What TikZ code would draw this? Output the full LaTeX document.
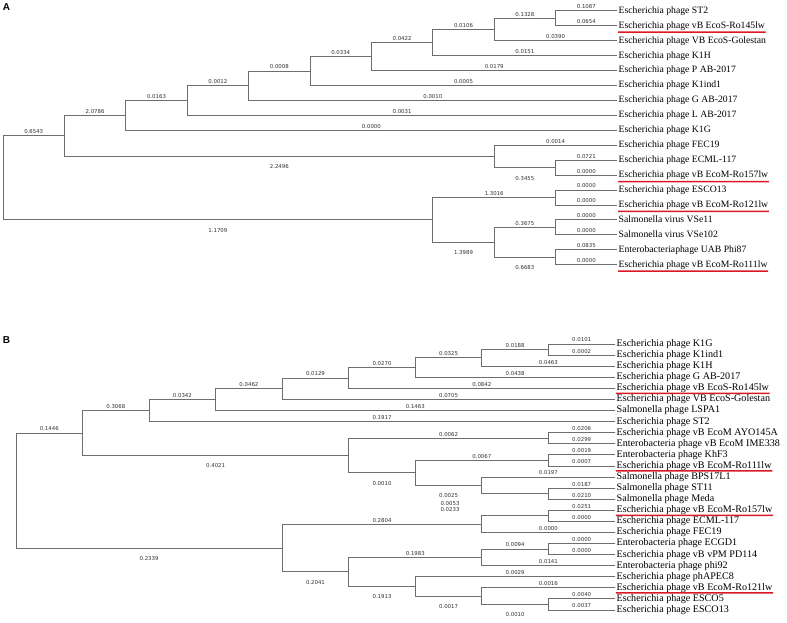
\documentclass[tikz,border=0pt]{standalone}
\usepackage{fontspec}
\setmainfont{Liberation Serif}
\newfontfamily\labfam{DejaVu Sans}
\newfontfamily\panelfam{Liberation Sans}
\definecolor{brc}{RGB}{110,110,110}
\definecolor{labc}{RGB}{50,50,50}
\definecolor{ulc}{RGB}{220,25,35}
\newcommand\yA[1]{-(10.7+14.94*(#1))}
\newcommand\yB[1]{-(344+11.08*(#1))}
\newcommand\xA[1]{(3+61.4*(#1))}
\newcommand\xB[1]{(16+66.55*(#1))}
\begin{document}
\begin{tikzpicture}[x=1pt,y=1pt,
  br/.style={draw=brc,line width=0.75pt},
  lab/.style={font=\labfam\fontsize{5.4}{6}\selectfont,text=labc,inner sep=0pt},
  labup/.style={pos=0.75,yshift=4pt},
  labdn/.style={pos=0.75,yshift=-10.5pt},
  leafA/.style={anchor=west,xshift=1.5pt,inner sep=0pt,text height=7pt,text depth=2pt,font=\fontsize{9.7}{11}\selectfont},
  leafB/.style={anchor=west,xshift=1.5pt,inner sep=0pt,text height=7pt,text depth=2pt,font=\fontsize{10.1}{11}\selectfont},
  uline/.style={fill=ulc,draw=none},
  panel/.style={font=\panelfam\bfseries\fontsize{10}{12}\selectfont,inner sep=0pt}]
\useasboundingbox (0,0) rectangle (787,-623);
\fill[white] (0,0) rectangle (787,-623);

\node[panel] (pA) at (6.5,-7) {A};
\node[panel] (pB) at (6.5,-340) {B};

% ---------------- Tree A ----------------
\foreach \i/\t in {0/Escherichia phage ST2,1/Escherichia phage vB EcoS-Ro145lw,2/Escherichia phage VB EcoS-Golestan,3/Escherichia phage K1H,4/Escherichia phage P AB-2017,5/Escherichia phage K1ind1,6/Escherichia phage G AB-2017,7/Escherichia phage L AB-2017,8/Escherichia phage K1G,9/Escherichia phage FEC19,10/Escherichia phage ECML-117,11/Escherichia phage vB EcoM-Ro157lw,12/Escherichia phage ESCO13,13/Escherichia phage vB EcoM-Ro121lw,14/Salmonella virus VSe11,15/Salmonella virus VSe102,16/Enterobacteriaphage UAB Phi87,17/Escherichia phage vB EcoM-Ro111lw}{
  \coordinate (a-l\i) at ({\xA{10}},{\yA{\i}});
  \node[leafA] (a-t\i) at (a-l\i) {\t};
}
\coordinate (a-r) at ({\xA{0}},{\yA{11.1885}});
\coordinate (a-n1) at ({\xA{1}},{\yA{8.377}});
\coordinate (a-n2) at ({\xA{2}},{\yA{7.004}});
\coordinate (a-n3) at ({\xA{3}},{\yA{6.008}});
\coordinate (a-n4) at ({\xA{4}},{\yA{5.016}});
\coordinate (a-n5) at ({\xA{5}},{\yA{4.031}});
\coordinate (a-n6) at ({\xA{6}},{\yA{3.0625}});
\coordinate (a-n7) at ({\xA{7}},{\yA{2.125}});
\coordinate (a-n8) at ({\xA{8}},{\yA{1.25}});
\coordinate (a-n9) at ({\xA{9}},{\yA{0.5}});
\coordinate (a-c2) at ({\xA{8}},{\yA{9.75}});
\coordinate (a-c1) at ({\xA{9}},{\yA{10.5}});
\coordinate (a-n10) at ({\xA{7}},{\yA{14}});
\coordinate (a-n11) at ({\xA{9}},{\yA{12.5}});
\coordinate (a-n12) at ({\xA{8}},{\yA{15.5}});
\coordinate (a-n13) at ({\xA{9}},{\yA{14.5}});
\coordinate (a-n14) at ({\xA{9}},{\yA{16.5}});

\draw[br] (a-r) |- node[lab,labup]{0.6543} (a-n1);
\draw[br] (a-r) |- node[lab,labdn]{1.1709} (a-n10);
\draw[br] (a-n1) |- node[lab,labup]{2.0786} (a-n2);
\draw[br] (a-n1) |- node[lab,labdn]{2.2496} (a-c2);
\draw[br] (a-n2) |- node[lab,labup]{0.0163} (a-n3);
\draw[br] (a-n2) |- node[lab,labup]{0.0000} (a-l8);
\draw[br] (a-n3) |- node[lab,labup]{0.0012} (a-n4);
\draw[br] (a-n3) |- node[lab,labup]{0.0031} (a-l7);
\draw[br] (a-n4) |- node[lab,labup]{0.0008} (a-n5);
\draw[br] (a-n4) |- node[lab,labup]{0.0010} (a-l6);
\draw[br] (a-n5) |- node[lab,labup]{0.0334} (a-n6);
\draw[br] (a-n5) |- node[lab,labup]{0.0005} (a-l5);
\draw[br] (a-n6) |- node[lab,labup]{0.0422} (a-n7);
\draw[br] (a-n6) |- node[lab,labup]{0.0179} (a-l4);
\draw[br] (a-n7) |- node[lab,labup]{0.0106} (a-n8);
\draw[br] (a-n7) |- node[lab,labup]{0.0151} (a-l3);
\draw[br] (a-n8) |- node[lab,labup]{0.1328} (a-n9);
\draw[br] (a-n8) |- node[lab,labup]{0.0390} (a-l2);
\draw[br] (a-n9) |- node[lab,labup]{0.1087} (a-l0);
\draw[br] (a-n9) |- node[lab,labup]{0.0654} (a-l1);
\draw[br] (a-c2) |- node[lab,labup]{0.0014} (a-l9);
\draw[br] (a-c2) |- node[lab,labdn]{0.3455} (a-c1);
\draw[br] (a-c1) |- node[lab,labup]{0.0721} (a-l10);
\draw[br] (a-c1) |- node[lab,labup]{0.0000} (a-l11);
\draw[br] (a-n10) |- node[lab,labup]{1.3016} (a-n11);
\draw[br] (a-n10) |- node[lab,labdn]{1.3989} (a-n12);
\draw[br] (a-n11) |- node[lab,labup]{0.0000} (a-l12);
\draw[br] (a-n11) |- node[lab,labup]{0.0000} (a-l13);
\draw[br] (a-n12) |- node[lab,labup]{0.3675} (a-n13);
\draw[br] (a-n12) |- node[lab,labdn]{0.6683} (a-n14);
\draw[br] (a-n13) |- node[lab,labup]{0.0000} (a-l14);
\draw[br] (a-n13) |- node[lab,labup]{0.0000} (a-l15);
\draw[br] (a-n14) |- node[lab,labup]{0.0835} (a-l16);
\draw[br] (a-n14) |- node[lab,labup]{0.0000} (a-l17);

% ---------------- Tree B ----------------
\foreach \i/\t in {0/Escherichia phage K1G,1/Escherichia phage K1ind1,2/Escherichia phage K1H,3/Escherichia phage G AB-2017,4/Escherichia phage vB EcoS-Ro145lw,5/Escherichia phage VB EcoS-Golestan,6/Salmonella phage LSPA1,7/Escherichia phage ST2,8/Escherichia phage vB EcoM AYO145A,9/Enterobacteria phage vB EcoM IME338,10/Enterobacteria phage KhF3,11/Escherichia phage vB EcoM-Ro111lw,12/Salmonella phage BPS17L1,13/Salmonella phage ST11,14/Salmonella phage Meda,15/Escherichia phage vB EcoM-Ro157lw,16/Escherichia phage ECML-117,17/Escherichia phage FEC19,18/Enterobacteria phage ECGD1,19/Escherichia phage vB vPM PD114,20/Enterobacteria phage phi92,21/Escherichia phage phAPEC8,22/Escherichia phage vB EcoM-Ro121lw,23/Escherichia phage ESCO5,24/Escherichia phage ESCO13}{
  \coordinate (b-l\i) at ({\xB{9}},{\yB{\i}});
  \node[leafB] (b-t\i) at (b-l\i) {\t};
}
\coordinate (b-r) at ({\xB{0}},{\yB{13.2205}});
\coordinate (b-n1) at ({\xB{1}},{\yB{8.035}});
\coordinate (b-n2) at ({\xB{2}},{\yB{6.008}});
\coordinate (b-n3) at ({\xB{3}},{\yB{5.016}});
\coordinate (b-n4) at ({\xB{4}},{\yB{4.031}});
\coordinate (b-n5) at ({\xB{5}},{\yB{3.0625}});
\coordinate (b-n6) at ({\xB{6}},{\yB{2.125}});
\coordinate (b-n7) at ({\xB{7}},{\yB{1.25}});
\coordinate (b-n8) at ({\xB{8}},{\yB{0.5}});
\coordinate (b-n9) at ({\xB{5}},{\yB{10.0625}});
\coordinate (b-n10) at ({\xB{8}},{\yB{8.5}});
\coordinate (b-n11) at ({\xB{6}},{\yB{11.625}});
\coordinate (b-n12) at ({\xB{8}},{\yB{10.5}});
\coordinate (b-n13) at ({\xB{7}},{\yB{12.75}});
\coordinate (b-n14) at ({\xB{8}},{\yB{13.5}});
\coordinate (b-n15) at ({\xB{4}},{\yB{18.406}});
\coordinate (b-n16) at ({\xB{7}},{\yB{16.25}});
\coordinate (b-n17) at ({\xB{8}},{\yB{15.5}});
\coordinate (b-n18) at ({\xB{5}},{\yB{20.5625}});
\coordinate (b-n19) at ({\xB{7}},{\yB{19.25}});
\coordinate (b-n21) at ({\xB{8}},{\yB{18.5}});
\coordinate (b-n20) at ({\xB{6}},{\yB{21.875}});
\coordinate (b-n22) at ({\xB{7}},{\yB{22.75}});
\coordinate (b-n23) at ({\xB{8}},{\yB{23.5}});

\draw[br] (b-r) |- node[lab,labup]{0.1446} (b-n1);
\draw[br] (b-r) |- node[lab,labdn]{0.2339} (b-n15);
\draw[br] (b-n1) |- node[lab,labup]{0.3068} (b-n2);
\draw[br] (b-n1) |- node[lab,labdn]{0.4021} (b-n9);
\draw[br] (b-n2) |- node[lab,labup]{0.0342} (b-n3);
\draw[br] (b-n2) |- node[lab,labup]{0.1917} (b-l7);
\draw[br] (b-n3) |- node[lab,labup]{0.0462} (b-n4);
\draw[br] (b-n3) |- node[lab,labup]{0.1463} (b-l6);
\draw[br] (b-n4) |- node[lab,labup]{0.0129} (b-n5);
\draw[br] (b-n4) |- node[lab,labup]{0.0705} (b-l5);
\draw[br] (b-n5) |- node[lab,labup]{0.0270} (b-n6);
\draw[br] (b-n5) |- node[lab,labup]{0.0842} (b-l4);
\draw[br] (b-n6) |- node[lab,labup]{0.0325} (b-n7);
\draw[br] (b-n6) |- node[lab,labup]{0.0438} (b-l3);
\draw[br] (b-n7) |- node[lab,labup]{0.0188} (b-n8);
\draw[br] (b-n7) |- node[lab,labup]{0.0463} (b-l2);
\draw[br] (b-n8) |- node[lab,labup]{0.0101} (b-l0);
\draw[br] (b-n8) |- node[lab,labup]{0.0002} (b-l1);
\draw[br] (b-n9) |- node[lab,labup]{0.0062} (b-n10);
\draw[br] (b-n9) |- node[lab,labdn]{0.0010} (b-n11);
\draw[br] (b-n10) |- node[lab,labup]{0.0206} (b-l8);
\draw[br] (b-n10) |- node[lab,labup]{0.0299} (b-l9);
\draw[br] (b-n11) |- node[lab,labup]{0.0067} (b-n12);
\draw[br] (b-n11) |- node[lab,labdn]{0.0025} (b-n13);
\draw[br] (b-n12) |- node[lab,labup]{0.0019} (b-l10);
\draw[br] (b-n12) |- node[lab,labup]{0.0007} (b-l11);
\draw[br] (b-n13) |- node[lab,labup]{0.0197} (b-l12);
\draw[br] (b-n13) |- (b-n14);
\draw[br] (b-n14) |- node[lab,labup]{0.0187} (b-l13);
\draw[br] (b-n14) |- node[lab,labup]{0.0210} (b-l14);
\draw[br] (b-n15) |- node[lab,labup]{0.2804} (b-n16);
\draw[br] (b-n15) |- node[lab,labdn]{0.2041} (b-n18);
\draw[br] (b-n16) |- (b-n17);
\draw[br] (b-n16) |- node[lab,labup]{0.0000} (b-l17);
\draw[br] (b-n17) |- node[lab,labup]{0.0251} (b-l15);
\draw[br] (b-n17) |- node[lab,labup]{0.0000} (b-l16);
\draw[br] (b-n18) |- node[lab,labup]{0.1983} (b-n19);
\draw[br] (b-n18) |- node[lab,labdn]{0.1913} (b-n20);
\draw[br] (b-n19) |- node[lab,labup]{0.0094} (b-n21);
\draw[br] (b-n19) |- node[lab,labup]{0.0141} (b-l20);
\draw[br] (b-n21) |- node[lab,labup]{0.0000} (b-l18);
\draw[br] (b-n21) |- node[lab,labup]{0.0000} (b-l19);
\draw[br] (b-n20) |- node[lab,labup]{0.0029} (b-l21);
\draw[br] (b-n20) |- node[lab,labdn]{0.0017} (b-n22);
\draw[br] (b-n22) |- node[lab,labup]{0.0016} (b-l22);
\draw[br] (b-n22) |- node[lab,labdn]{0.0010} (b-n23);
\draw[br] (b-n23) |- node[lab,labup]{0.0040} (b-l23);
\draw[br] (b-n23) |- node[lab,labup]{0.0037} (b-l24);

\node[lab] (b-lab0053) at (450,{\yB{13.5}-10}) {0.0053};
\node[lab] (b-lab0233) at (450,{\yB{15.5}+6}) {0.0233};

% ---------------- red underlines (thin filled bars) ----------------
\fill[uline]
  ([xshift=1pt,yshift=-5.8pt]a-l1) rectangle ([xshift=0.5pt,yshift=-7.3pt]a-t1.east)
  ([xshift=1pt,yshift=-5.8pt]a-l11) rectangle ([xshift=0.5pt,yshift=-7.3pt]a-t11.east)
  ([xshift=1pt,yshift=-5.8pt]a-l13) rectangle ([xshift=0.5pt,yshift=-7.3pt]a-t13.east)
  ([xshift=1pt,yshift=-5.8pt]a-l17) rectangle ([xshift=0.5pt,yshift=-7.3pt]a-t17.east)
  ([xshift=1pt,yshift=-4.3pt]b-l4) rectangle ([xshift=0.5pt,yshift=-5.8pt]b-t4.east)
  ([xshift=1pt,yshift=-4.3pt]b-l11) rectangle ([xshift=0.5pt,yshift=-5.8pt]b-t11.east)
  ([xshift=1pt,yshift=-4.3pt]b-l15) rectangle ([xshift=0.5pt,yshift=-5.8pt]b-t15.east)
  ([xshift=1pt,yshift=-4.3pt]b-l22) rectangle ([xshift=0.5pt,yshift=-5.8pt]b-t22.east);
\end{tikzpicture}
\end{document}
